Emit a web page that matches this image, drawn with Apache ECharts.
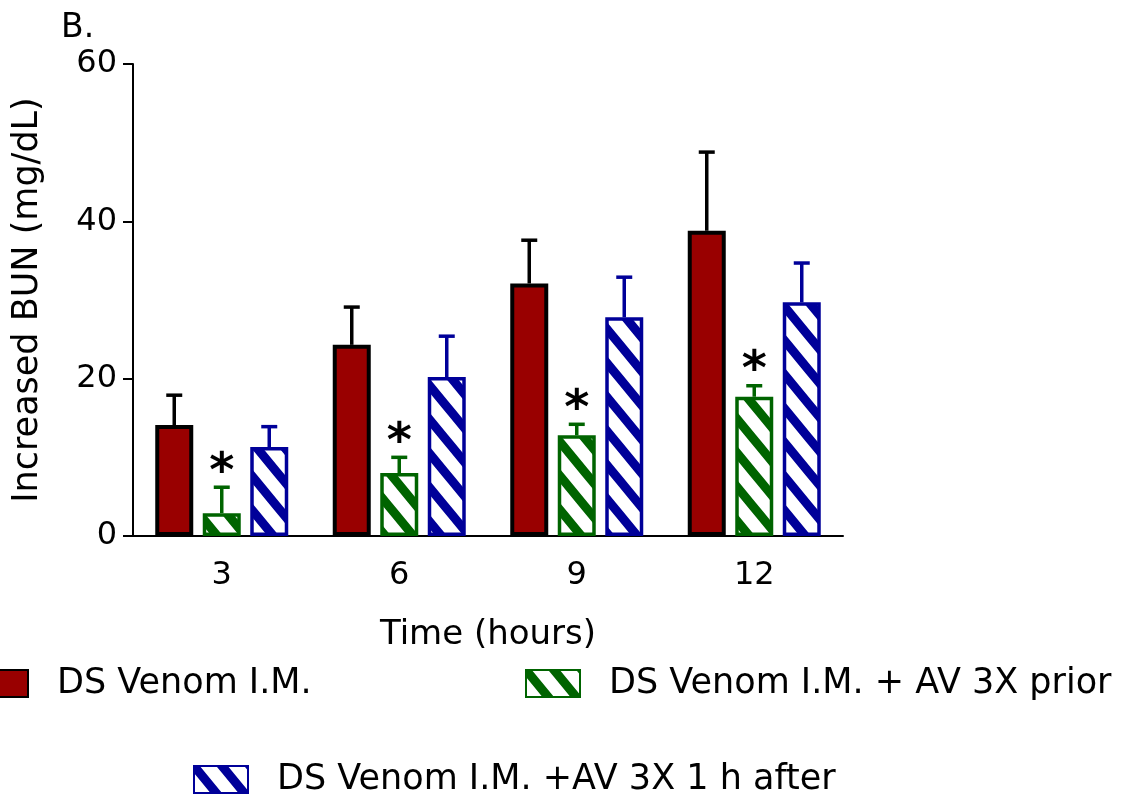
<!DOCTYPE html>
<html><head><meta charset="utf-8">
<script src="https://cdn.jsdelivr.net/npm/echarts@6/dist/echarts.min.js"></script>
<style>html,body{margin:0;padding:0;background:#fff}#c{width:1134px;height:795px}</style>
</head><body><div id="c"></div>
<script>
const categories = ['3', '6', '9', '12'];
const seriesNames = ['DS Venom I.M.', 'DS Venom I.M. + AV 3X prior', 'DS Venom I.M. +AV 3X 1 h after'];
const venomMean = [14.1, 24.3, 32.1, 38.8];
const venomErr = [3.8, 4.8, 5.5, 10.0];
const priorMean = [2.9, 8.0, 12.8, 17.7];
const priorErr = [3.3, 2.0, 1.4, 1.4];
const afterMean = [11.3, 20.2, 27.8, 29.7];
const afterErr = [2.6, 5.2, 5.1, 5.0];
const priorSignificant = ['*', '*', '*', '*'];
const yTicks = [0, 20, 40, 60];

const FONT = 'DejaVu Sans';
const RED = '#990000', GREEN = '#006400', BLUE = '#000099';
const BAR_W = 38, BAR_GAP = 0.25;
const STEP = BAR_W * (1 + BAR_GAP);

function hatch(color) {
  const W = 28, H = 34;
  const c = document.createElement('canvas');
  c.width = W; c.height = H;
  const g = c.getContext('2d');
  g.fillStyle = '#fff'; g.fillRect(0, 0, W, H);
  g.strokeStyle = color; g.lineWidth = 9;
  g.beginPath();
  for (let k = -2; k <= 2; k++) {
    g.moveTo(-W, k * H - H);
    g.lineTo(2 * W, k * H + 2 * H);
  }
  g.stroke();
  return { image: c, repeat: 'repeat' };
}

const groups = [
  { name: seriesNames[0], mean: venomMean, err: venomErr, fill: RED, line: '#000', bw: 4 },
  { name: seriesNames[1], mean: priorMean, err: priorErr, fill: hatch(GREEN), line: GREEN, bw: 3.5, marks: priorSignificant },
  { name: seriesNames[2], mean: afterMean, err: afterErr, fill: hatch(BLUE), line: BLUE, bw: 3.5 }
];

const series = [];
groups.forEach((gr, k) => {
  series.push({
    type: 'bar', name: gr.name, data: gr.mean, barWidth: BAR_W, barGap: (BAR_GAP * 100) + '%',
    itemStyle: { color: gr.fill, borderColor: gr.line, borderWidth: gr.bw },
    emphasis: { disabled: true }, z: 2
  });
});
groups.forEach((gr, k) => {
  series.push({
    type: 'custom', name: gr.name + ' err', z: 3, silent: true,
    data: gr.mean.map((m, i) => [i, m, gr.err[i]]),
    renderItem(params, api) {
      const i = api.value(0), m = api.value(1), e = api.value(2);
      const mark = gr.marks ? gr.marks[i] : '';
      const b = api.coord([i, m]);
      const t = api.coord([i, m + e]);
      const x = b[0] + (k - 1) * STEP;
      const style = { stroke: gr.line, lineWidth: 3.5 };
      const children = [
        { type: 'line', shape: { x1: x, y1: b[1], x2: x, y2: t[1] }, style },
        { type: 'line', shape: { x1: x - 8, y1: t[1], x2: x + 8, y2: t[1] }, style }
      ];
      if (mark) {
        children.push({ type: 'text', style: { text: mark, x: x, y: t[1] - 14, align: 'center', verticalAlign: 'middle',
          font: 'bold 48px "' + FONT + '"', fill: '#000' } });
      }
      return { type: 'group', children };
    }
  });
});

const legendBase = { orient: 'horizontal', padding: 0, itemWidth: 54, itemHeight: 27, icon: 'rect',
  textStyle: { fontFamily: FONT, fontSize: 35, color: '#000', padding: [0, 0, 0, 24] }, selectedMode: false };

const option = {
  animation: false,
  backgroundColor: '#fff',
  title: { text: 'B.', left: 56, top: 7, textStyle: { fontFamily: FONT, fontSize: 33, fontWeight: 'normal', color: '#000' } },
  grid: { left: 133, right: 291, top: 64, bottom: 259, containLabel: false, outerBoundsMode: 'none' },
  legend: [
    Object.assign({}, legendBase, { data: [seriesNames[0]], left: -27, top: 666 }),
    Object.assign({}, legendBase, { data: [seriesNames[1]], left: 525, top: 666 }),
    Object.assign({}, legendBase, { data: [seriesNames[2]], left: 193, top: 762 })
  ],
  xAxis: {
    type: 'category', data: categories, boundaryGap: true,
    name: 'Time (hours)', nameLocation: 'middle', nameGap: 82,
    nameTextStyle: { fontFamily: FONT, fontSize: 34, color: '#000' },
    axisLine: { lineStyle: { color: '#000', width: 2 } },
    axisTick: { alignWithLabel: true, length: 10, lineStyle: { color: '#000', width: 2 } },
    axisLabel: { fontFamily: FONT, fontSize: 32, color: '#000', margin: 24 }
  },
  yAxis: {
    type: 'value', min: yTicks[0], max: yTicks[yTicks.length - 1], interval: yTicks[1] - yTicks[0],
    name: 'Increased BUN (mg/dL)', nameLocation: 'middle', nameGap: 88,
    nameTextStyle: { fontFamily: FONT, fontSize: 35, color: '#000' },
    axisLine: { show: true, lineStyle: { color: '#000', width: 2 } },
    axisTick: { show: true, length: 10, lineStyle: { color: '#000', width: 2 } },
    axisLabel: { fontFamily: FONT, fontSize: 32, color: '#000', margin: 16 },
    splitLine: { show: false }
  },
  series
};

const chart = echarts.init(document.getElementById('c'), null, { renderer: 'canvas' });
chart.setOption(option);
</script>
</body></html>
